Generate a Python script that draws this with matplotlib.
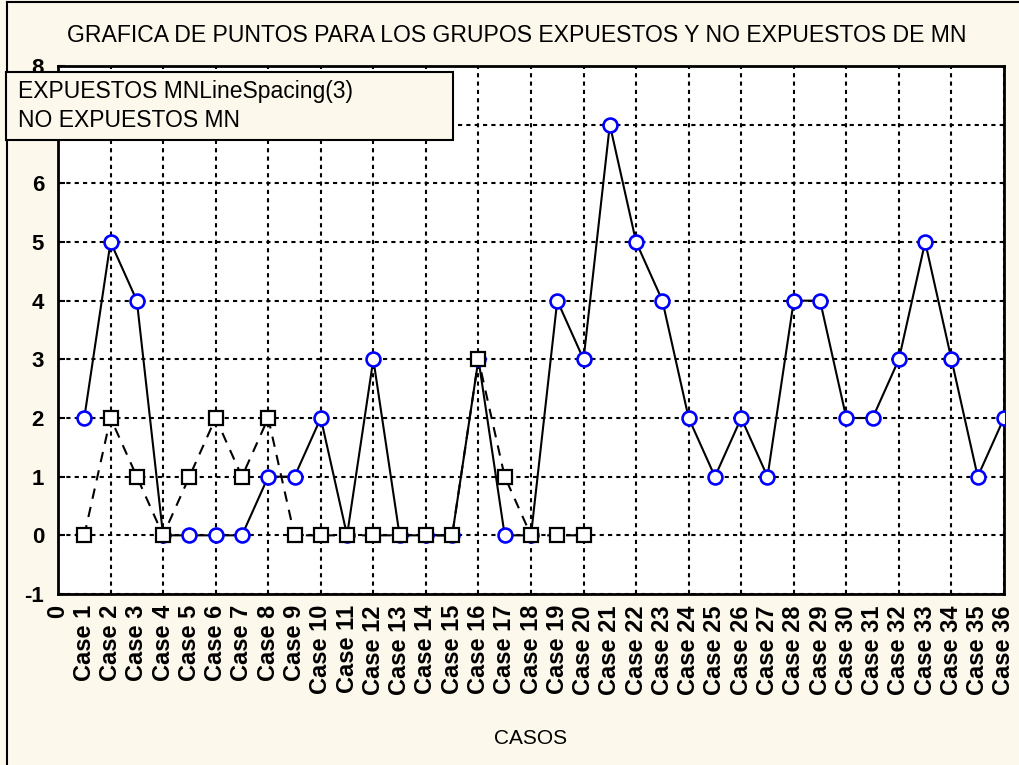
import matplotlib
matplotlib.use("Agg")
import matplotlib.pyplot as plt
from matplotlib.lines import Line2D

# ---- data ----
case_labels = ["0"] + [f"Case {i}" for i in range(1, 37)]
expuestos_x = list(range(1, 37))
expuestos_y = [2, 5, 4, 0, 0, 0, 0, 1, 1, 2, 0, 3, 0, 0, 0, 3, 0, 0,
               4, 3, 7, 5, 4, 2, 1, 2, 1, 4, 4, 2, 2, 3, 5, 3, 1, 2]
no_expuestos_x = list(range(1, 21))
no_expuestos_y = [0, 2, 1, 0, 1, 2, 1, 2, 0, 0, 0, 0, 0, 0, 0, 3, 1, 0, 0, 0]
y_ticks = list(range(-1, 9))

title = "GRAFICA DE PUNTOS PARA LOS GRUPOS EXPUESTOS Y NO EXPUESTOS DE MN"
xlabel = "CASOS"
legend_labels = ["EXPUESTOS MNLineSpacing(3)", "NO EXPUESTOS MN"]

cream = "#FDF8EC"
sans = ["Liberation Sans", "DejaVu Sans"]
W, H = 1019, 765

fig = plt.figure(figsize=(W / 100, H / 100), dpi=100, facecolor=cream)
ax = fig.add_axes([58 / W, 1 - 594 / H, (1004 - 58) / W, (594 - 66) / H])
ax.set_facecolor("white")

l1, = ax.plot(expuestos_x, expuestos_y, color="black", lw=1.5, marker="o",
              ms=10, mfc="white", mec="#0000FF", mew=1.9, zorder=3)
l2, = ax.plot(no_expuestos_x, no_expuestos_y, color="black", lw=1.5,
              linestyle=(0, (5, 4)), marker="s", ms=9.5, mfc="white",
              mec="black", mew=1.6, zorder=4)

ax.set_xlim(0, 36)
ax.set_ylim(-1, 8)
# even positions: major ticks (carry the vertical grid); odd positions: minor
pos = list(range(len(case_labels)))
ax.set_xticks(pos[0::2])
ax.set_xticklabels(case_labels[0::2])
ax.set_xticks(pos[1::2], minor=True)
ax.set_xticklabels(case_labels[1::2], minor=True)
for lab in ax.get_xticklabels(which="both"):
    lab.set_rotation(90)
    lab.set_fontsize(17)
    lab.set_fontweight("bold")
    lab.set_family(sans)
ax.set_yticks(y_ticks)
ax.set_yticklabels([str(v) for v in y_ticks], fontsize=16, fontweight="bold",
                   family=sans)
ax.tick_params(axis="x", which="both", length=0, pad=8)
ax.tick_params(axis="y", direction="in", length=5, width=1.5, pad=10)

ax.grid(which="major", axis="both", color="black", linestyle=(0, (2, 2)), lw=1.5)
ax.set_axisbelow(True)
for s in ax.spines.values():
    s.set_linewidth(2)
    s.set_color("black")

fig.text(517 / W, 1 - 35 / H, title, ha="center", va="center",
         fontsize=16.6, family=sans)
fig.text(531 / W, 1 - 738 / H, xlabel, ha="center", va="center",
         fontsize=15, family=sans)

leg = fig.legend([l1, l2], legend_labels, loc="upper left", mode="expand",
                 bbox_to_anchor=(6 / W, 1 - 140 / H, (453 - 6) / W, 68 / H),
                 borderaxespad=0, handlelength=0, handletextpad=0.17,
                 fancybox=False, framealpha=1, facecolor=cream,
                 edgecolor="black", borderpad=0.35, labelspacing=0.25,
                 prop={"family": sans, "size": 16.5})
for h in leg.legend_handles:
    h.set_visible(False)
leg.get_frame().set_linewidth(1.5)

# figure border (left and top)
fig.add_artist(Line2D([7 / W, 7 / W], [0, 1 - 2 / H],
                      transform=fig.transFigure, color="black", lw=1.5))
fig.add_artist(Line2D([7 / W, 1], [1 - 2 / H, 1 - 2 / H],
                      transform=fig.transFigure, color="black", lw=1.5))

fig.savefig("out.png", dpi=100, facecolor=cream)
